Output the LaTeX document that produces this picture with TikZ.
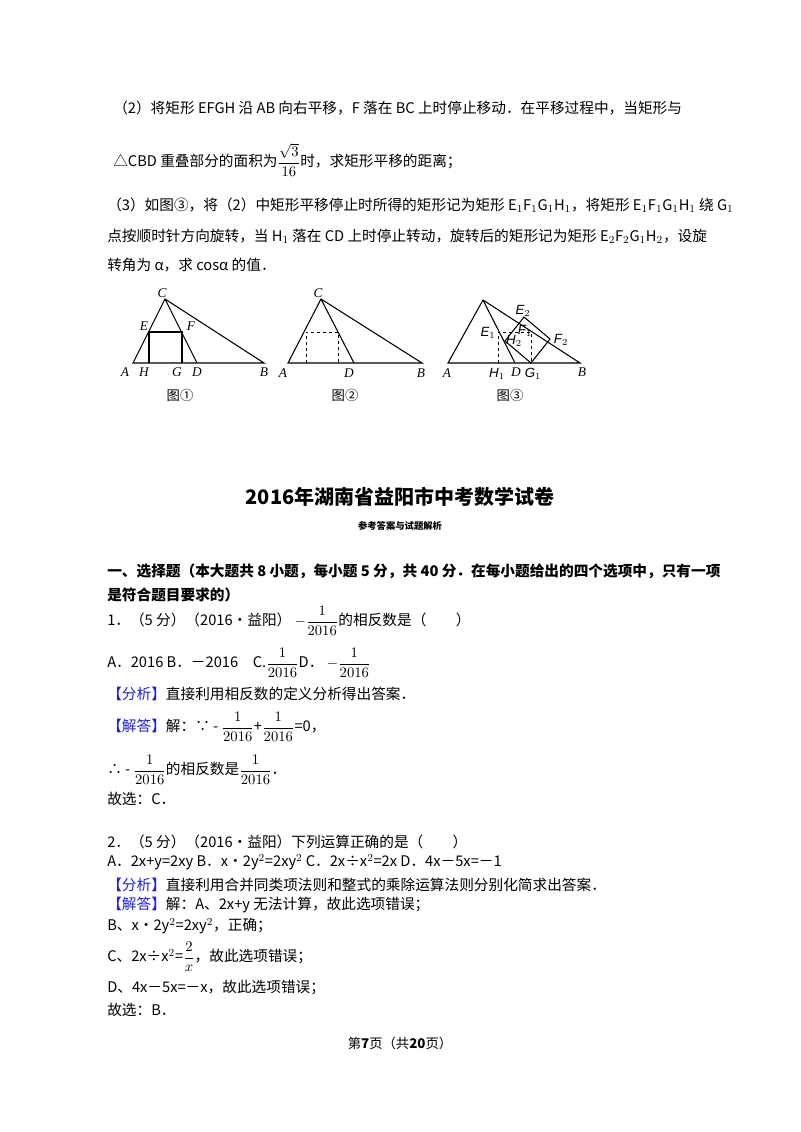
\documentclass[tikz,border=0pt]{standalone}
\usepackage{fontspec}
\setmainfont{Liberation Serif}
\newfontfamily\cjk{Noto Sans CJK SC}
\newfontfamily\lsans{Liberation Sans}
\definecolor{ablue}{RGB}{30,30,230}
\begin{document}
\begin{tikzpicture}[x=0.75pt,y=-0.75pt,
 tx/.style={anchor=west,inner sep=0pt,font=\cjk\fontsize{11}{13}\selectfont},
 lb/.style={inner sep=0pt,font=\itshape\fontsize{10}{12}\selectfont},
 ls/.style={inner sep=0pt,font=\lsans\itshape\fontsize{10}{12}\selectfont},
 figcap/.style={inner sep=0pt,font=\cjk\fontsize{10}{12}\selectfont},
 ln/.style={line width=0.8pt},
 ds/.style={line width=0.6pt,dashed,dash pattern=on 2.5pt off 2pt}]
\useasboundingbox (0,0) rectangle (800,1132);
\fill[white] (0,0) rectangle (800,1132);
% text top
\node[tx] (t1) at (113,108) {（2）将矩形 EFGH 沿 AB 向右平移，F 落在 BC 上时停止移动．在平移过程中，当矩形与};
\node[tx] (t2) at (113,160) {△CBD 重叠部分的面积为$\displaystyle\frac{\sqrt3}{16}$时，求矩形平移的距离；};
\node[tx] (t3) at (107,205) {（3）如图③，将（2）中矩形平移停止时所得的矩形记为矩形 E$_1$F$_1$G$_1$H$_1$，将矩形 E$_1$F$_1$G$_1$H$_1$ 绕 G$_1$};
\node[tx] (t4) at (107,236) {点按顺时针方向旋转，当 H$_1$ 落在 CD 上时停止转动，旋转后的矩形记为矩形 E$_2$F$_2$G$_1$H$_2$，设旋};
\node[tx] (t5) at (107,265) {转角为 α，求 cosα 的值．};
% fig 1
\coordinate (A1) at (133,363); \coordinate (C1) at (165,299); \coordinate (D1) at (197,363); \coordinate (B1) at (264,363);
\coordinate (E1) at (149,332); \coordinate (F1) at (182,332); \coordinate (H1) at (149,363); \coordinate (G1) at (182,363);
\draw[ln] (A1)--(C1)--(B1)--cycle (C1)--(D1);
\draw[ln] (E1)--(F1)--(G1) (E1)--(H1);
\node[lb] (lc1) at (162,293) {C}; \node[lb] (le1) at (144,326) {E}; \node[lb] (lf1) at (191,326) {F};
\node[lb] (la1) at (125,372) {A}; \node[lb] (lh1) at (144,372) {H}; \node[lb] (lg1) at (177,372) {G};
\node[lb] (ld1) at (197,372) {D}; \node[lb] (lb1) at (264,372) {B};
\node[figcap] (c1) at (180,395) {图①};
% fig 2
\coordinate (A2) at (288,363); \coordinate (C2) at (321,299); \coordinate (D2) at (354,363); \coordinate (B2) at (422,363);
\draw[ln] (A2)--(C2)--(B2)--cycle (C2)--(D2);
\draw[ds] (306,363)--(306,332)--(338,332)--(338,363);
\node[lb] (la2) at (283,373) {A}; \node[lb] (lc2) at (318,293) {C}; \node[lb] (ld2) at (349,373) {D}; \node[lb] (lb2) at (421,373) {B};
\node[figcap] (c2) at (345,395) {图②};
% fig 3
\coordinate (A3) at (448,363); \coordinate (C3) at (483,300); \coordinate (D3) at (515,363); \coordinate (B3) at (580,363);
\coordinate (G3) at (531,363); \coordinate (H3) at (505,341); \coordinate (F3) at (550,339); \coordinate (E3) at (524,317);
\draw[ln] (A3)--(C3)--(B3)--cycle (C3)--(D3);
\draw[ds] (498,363)--(498,332)--(531,332)--(531,363);
\draw[ln] (G3)--(H3)--(E3)--(F3)--cycle;
\node[ls] at (523,311) {E$_2$}; \node[ls] at (561,340) {F$_2$};
\node[ls] at (488,333) {E$_1$}; \node[ls] at (525,331) {F$_1$}; \node[ls] at (514,341) {H$_2$};
\node[lb] at (447,373) {A}; \node[ls] at (497,374) {H$_1$}; \node[lb] at (516,372) {D};
\node[ls] at (533,374) {G$_1$}; \node[lb] at (582,372) {B};
\node[figcap] (c3) at (510,395) {图③};
% title
\node[inner sep=0pt,font=\cjk\bfseries\fontsize{15}{18}\selectfont] (title) at (400,497) {\textbf{2016}年湖南省益阳市中考数学试卷};
\node[inner sep=0pt,font=\cjk\bfseries\fontsize{7}{9}\selectfont] (sub) at (400,526) {参考答案与试题解析};
\node[tx,font=\cjk\bfseries\fontsize{11}{13}\selectfont] at (107,571) {一、选择题（本大题共 8 小题，每小题 5 分，共 40 分．在每小题给出的四个选项中，只有一项};
\node[tx,font=\cjk\bfseries\fontsize{11}{13}\selectfont] at (107,595) {是符合题目要求的）};
\node[tx] at (107,621) {1．（5 分）（2016•益阳）\ $-\displaystyle\frac{1}{2016}$的相反数是（\qquad）};
\node[tx] at (107,663) {A．2016 B．－2016\quad C.$\displaystyle\frac{1}{2016}$D．\ $-\displaystyle\frac{1}{2016}$};
\node[tx] at (107,694) {\textcolor{ablue}{【分析】}直接利用相反数的定义分析得出答案．};
\node[tx] at (107,727) {\textcolor{ablue}{【解答】}解：∵ - $\displaystyle\frac{1}{2016}$+$\displaystyle\frac{1}{2016}$=0，};
\node[tx] at (107,770) {∴ - $\displaystyle\frac{1}{2016}$的相反数是$\displaystyle\frac{1}{2016}$．};
\node[tx] at (107,799) {故选：C．};
\node[tx] at (107,842) {2．（5 分）（2016•益阳）下列运算正确的是（\qquad）};
\node[tx] at (107,862) {A．2x+y=2xy B．x•2y$^2$=2xy$^2$ C．2x÷x$^2$=2x D．4x－5x=－1};
\node[tx] at (107,885) {\textcolor{ablue}{【分析】}直接利用合并同类项法则和整式的乘除运算法则分别化简求出答案．};
\node[tx] at (107,905) {\textcolor{ablue}{【解答】}解：A、2x+y 无法计算，故此选项错误；};
\node[tx] at (107,926) {B、x•2y$^2$=2xy$^2$，正确；};
\node[tx] at (107,957) {C、2x÷x$^2$=$\displaystyle\frac{2}{x}$，故此选项错误；};
\node[tx] at (107,988) {D、4x－5x=－x，故此选项错误；};
\node[tx] at (107,1010) {故选：B．};
\node[inner sep=0pt,font=\cjk\fontsize{10}{12}\selectfont] (foot) at (400,1043) {第\textbf{7}页（共\textbf{20}页）};
\end{tikzpicture}
\end{document}
